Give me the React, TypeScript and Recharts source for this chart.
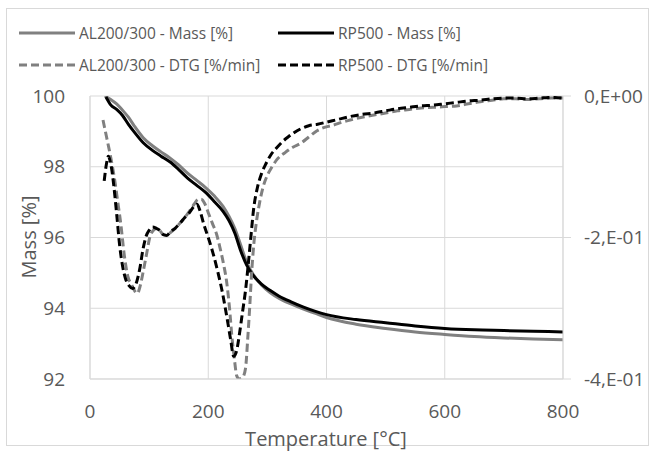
import React from 'react';
import { LineChart, Line, XAxis, YAxis, CartesianGrid } from 'recharts';

// ---- Data ----
const rpMassT = [27, 35, 45, 55, 65, 75, 90, 105, 120, 135, 150, 165, 180, 195, 210, 225, 235, 245, 255, 265, 275, 290, 305, 320, 340, 360, 380, 400, 450, 500, 550, 600, 650, 700, 750, 800];
const rpMassV = [99.97, 99.75, 99.62, 99.45, 99.2, 98.98, 98.68, 98.47, 98.3, 98.14, 97.92, 97.68, 97.48, 97.28, 97.02, 96.74, 96.48, 96.12, 95.62, 95.22, 94.95, 94.68, 94.5, 94.34, 94.18, 94.04, 93.92, 93.82, 93.68, 93.59, 93.5, 93.43, 93.39, 93.37, 93.35, 93.33];

const alMassT = [25, 35, 45, 55, 65, 75, 90, 105, 120, 135, 150, 165, 180, 195, 210, 225, 235, 245, 255, 265, 275, 290, 305, 320, 340, 360, 380, 400, 450, 500, 550, 600, 650, 700, 750, 800];
const alMassV = [100.0, 99.9, 99.78, 99.6, 99.4, 99.15, 98.82, 98.6, 98.42, 98.25, 98.05, 97.82, 97.62, 97.42, 97.18, 96.88, 96.6, 96.25, 95.78, 95.3, 94.98, 94.66, 94.44, 94.28, 94.12, 93.98, 93.86, 93.74, 93.55, 93.43, 93.33, 93.26, 93.2, 93.16, 93.13, 93.11];

const rpDtgT = [24, 28, 31, 34, 37, 40, 45, 50, 55, 60, 66, 72, 78, 84, 90, 95, 100, 106, 112, 118, 124, 130, 136, 144, 152, 160, 168, 176, 181, 186, 192, 200, 208, 216, 224, 232, 238, 243, 248, 253, 258, 263, 268, 272, 277, 283, 290, 298, 306, 315, 325, 335, 345, 355, 370, 385, 400, 420, 440, 460, 480, 500, 520, 540, 560, 580, 600, 620, 640, 660, 680, 700, 720, 740, 760, 780, 800];
const rpDtgV = [-0.12, -0.095, -0.085, -0.092, -0.105, -0.125, -0.166, -0.21, -0.24, -0.258, -0.268, -0.272, -0.265, -0.245, -0.215, -0.198, -0.19, -0.185, -0.187, -0.19, -0.196, -0.197, -0.192, -0.187, -0.18, -0.172, -0.165, -0.156, -0.153, -0.162, -0.18, -0.2, -0.222, -0.248, -0.278, -0.315, -0.345, -0.368, -0.36, -0.335, -0.305, -0.275, -0.235, -0.2, -0.158, -0.13, -0.11, -0.095, -0.083, -0.074, -0.065, -0.058, -0.052, -0.047, -0.042, -0.04, -0.037, -0.033, -0.029, -0.026, -0.024, -0.021, -0.018, -0.016, -0.014, -0.013, -0.011, -0.009, -0.007, -0.006, -0.004, -0.003, -0.003, -0.004, -0.003, -0.002, -0.003];

const alDtgT = [22, 26, 30, 34, 38, 42, 47, 52, 58, 64, 70, 76, 80, 85, 90, 96, 101, 107, 113, 118, 124, 130, 136, 144, 152, 160, 168, 176, 183, 188, 194, 200, 207, 214, 220, 226, 231, 236, 240, 244, 248, 252, 258, 263, 267, 270, 273, 277, 282, 287, 293, 300, 308, 316, 330, 344, 356, 370, 384, 398, 412, 426, 440, 460, 480, 500, 520, 540, 560, 580, 600, 620, 640, 660, 680, 700, 720, 740, 760, 780, 800];
const alDtgV = [-0.034, -0.05, -0.066, -0.082, -0.1, -0.12, -0.15, -0.18, -0.225, -0.255, -0.266, -0.276, -0.279, -0.268, -0.248, -0.222, -0.2, -0.19, -0.187, -0.19, -0.196, -0.197, -0.193, -0.187, -0.18, -0.172, -0.163, -0.153, -0.146, -0.146, -0.152, -0.165, -0.18, -0.195, -0.215, -0.238, -0.262, -0.3, -0.34, -0.37, -0.395, -0.4, -0.398, -0.385, -0.34, -0.3, -0.255, -0.21, -0.175, -0.15, -0.128, -0.112, -0.1, -0.09, -0.08, -0.072, -0.067, -0.058, -0.049, -0.044, -0.041, -0.037, -0.034, -0.03, -0.027, -0.024, -0.021, -0.019, -0.017, -0.016, -0.015, -0.014, -0.011, -0.008, -0.006, -0.004, -0.004, -0.005, -0.004, -0.003, -0.003];

const xTicks = [0, 200, 400, 600, 800];
const leftTicks = [92, 94, 96, 98, 100];
const rightTicks = [-0.4, -0.2, 0];
const rightTickLabels = ['-4,E-01', '-2,E-01', '0,E+00'];

const seriesNames = ['AL200/300 - Mass [%]', 'RP500 - Mass [%]', 'AL200/300 - DTG [%/min]', 'RP500 - DTG [%/min]'];
const xTitle = 'Temperature [°C]';
const yTitle = 'Mass [%]';

const zip = (ts: number[], vs: number[]) => ts.map((t, i) => ({ t, v: vs[i] }));
const rpMass = zip(rpMassT, rpMassV);
const alMass = zip(alMassT, alMassV);
const rpDtg = zip(rpDtgT, rpDtgV);
const alDtg = zip(alDtgT, alDtgV);

const FONT = "'Open Sans', 'Noto Sans', sans-serif";
const TXT = '#595959';
const GRID = '#d9d9d9';
const GRAY = '#808080';
const BLACK = '#000000';

const legendItems = [
  { name: seriesNames[0], color: GRAY, dash: false, left: 19, top: 33 },
  { name: seriesNames[1], color: BLACK, dash: false, left: 278, top: 33 },
  { name: seriesNames[2], color: GRAY, dash: true, left: 19, top: 65 },
  { name: seriesNames[3], color: BLACK, dash: true, left: 278, top: 65 },
];

export default function App() {
  return (
    <div style={{ position: 'absolute', left: 0, top: 0, width: 655, height: 452, background: '#fff', fontFamily: FONT }}>
      <div style={{ position: 'absolute', left: 6, top: 8, width: 643, height: 438, border: `1px solid ${GRID}`, boxSizing: 'border-box' }} />
      <LineChart width={655} height={452} margin={{ top: 96, right: 0, bottom: 13, left: 0 }} style={{ position: 'absolute', left: 0, top: 0 }}>
        <CartesianGrid yAxisId="left" stroke={GRID} strokeWidth={1} horizontalValues={leftTicks} verticalValues={xTicks} />
        <XAxis
          type="number"
          dataKey="t"
          domain={[0, 800]}
          ticks={xTicks}
          allowDataOverflow
          height={60}
          tickLine={false}
          tickSize={0}
          tickMargin={26}
          axisLine={{ stroke: GRID }}
          tick={{ fill: TXT, fontSize: 19, fontFamily: FONT }}
          label={{
            content: () => (
              <text x={326} y={438} textAnchor="middle" dominantBaseline="central" fill={TXT} fontSize={20} fontFamily={FONT}>
                {xTitle}
              </text>
            ),
          }}
        />
        <YAxis
          yAxisId="left"
          orientation="left"
          domain={[92, 100]}
          ticks={leftTicks}
          allowDataOverflow
          width={90}
          tickLine={false}
          tickSize={0}
          tickMargin={25}
          axisLine={{ stroke: GRID }}
          tick={{ fill: TXT, fontSize: 19, fontFamily: FONT }}
          label={{
            content: () => (
              <text x={28} y={237} transform="rotate(-90 28 237)" textAnchor="middle" dominantBaseline="central" fill={TXT} fontSize={20} fontFamily={FONT}>
                {yTitle}
              </text>
            ),
          }}
        />
        <YAxis
          yAxisId="right"
          orientation="right"
          domain={[-0.4, 0]}
          ticks={rightTicks}
          allowDataOverflow
          width={92}
          tickSize={8}
          tickMargin={13}
          tickLine={{ stroke: GRID }}
          axisLine={{ stroke: GRID }}
          tick={{ fill: TXT, fontSize: 19, fontFamily: FONT }}
          tickFormatter={(v: number) => {
            const i = rightTicks.findIndex((r) => Math.abs(r - v) < 1e-9);
            return i >= 0 ? rightTickLabels[i] : '';
          }}
        />
        <Line yAxisId="left" data={alMass} dataKey="v" type="monotone" stroke={GRAY} strokeWidth={3} dot={false} activeDot={false} isAnimationActive={false} />
        <Line yAxisId="left" data={rpMass} dataKey="v" type="monotone" stroke={BLACK} strokeWidth={3} dot={false} activeDot={false} isAnimationActive={false} />
        <Line yAxisId="right" data={alDtg} dataKey="v" type="monotone" stroke={GRAY} strokeWidth={3} strokeDasharray="8 4" dot={false} activeDot={false} isAnimationActive={false} />
        <Line yAxisId="right" data={rpDtg} dataKey="v" type="monotone" stroke={BLACK} strokeWidth={3} strokeDasharray="8 4" dot={false} activeDot={false} isAnimationActive={false} />
      </LineChart>
      {legendItems.map((it) => (
        <div key={it.name} style={{ position: 'absolute', left: it.left, top: it.top - 12, height: 24, display: 'flex', alignItems: 'center' }}>
          <svg width={57} height={24} style={{ display: 'block' }}>
            <line x1={0} y1={12} x2={56} y2={12} stroke={it.color} strokeWidth={3} strokeDasharray={it.dash ? '8 4' : undefined} />
          </svg>
          <span style={{ marginLeft: 3, fontSize: 15.5, color: TXT, fontFamily: FONT, whiteSpace: 'nowrap', lineHeight: '24px' }}>{it.name}</span>
        </div>
      ))}
    </div>
  );
}
